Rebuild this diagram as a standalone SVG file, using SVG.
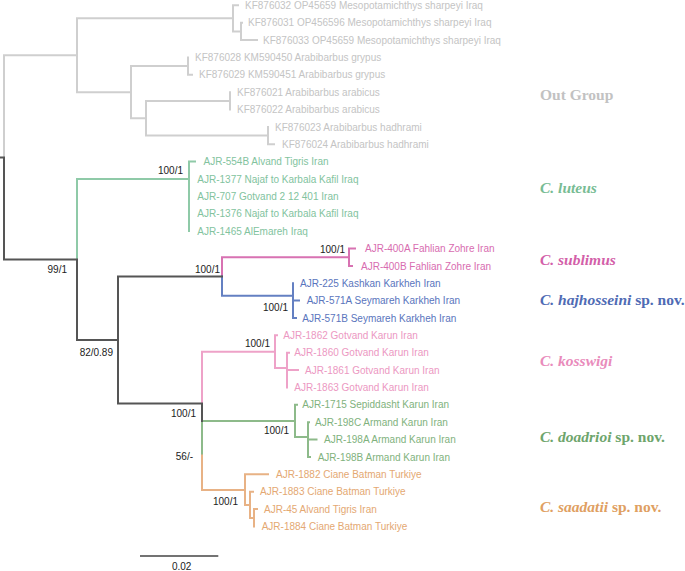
<svg xmlns="http://www.w3.org/2000/svg" width="685" height="571" viewBox="0 0 685 571">
<style>
.t{font-family:"Liberation Sans",Arial,sans-serif;font-size:10px}
.bs{font-family:"Liberation Sans",Arial,sans-serif;font-size:10px;fill:#222;text-anchor:end}
.cl{font-family:"Liberation Serif","Times New Roman",serif;font-size:15.5px;font-weight:bold;font-style:italic}
.up{font-style:normal}
.e{fill:none;stroke-width:2;stroke-linecap:square;stroke-linejoin:miter}
.og{fill:#c4c4c4}.lu{fill:#82c39e}.su{fill:#d86cb0}.ha{fill:#5a75bd}.ko{fill:#ec98c2}.do{fill:#7fb27d}.sa{fill:#e4a872}
</style>
<rect width="685" height="571" fill="#fff"/>
<g id="connectors">
<path class="e" stroke="#cfcfcf" d="M4,157.4V55.3H77M77,18.3V92.2M77,18.3H233M233,5.3V31.4M233,5.3H238M233,31.4H241M241,22.7V40M241,22.7H242M241,40H257M77,92.2H131M131,66.1V118.2M131,66.1H188M188,57.4V74.8M188,74.8H192M131,118.2H146M146,100.9V135.6M146,100.9H230M230,92.2V109.5M146,135.6H268M268,126.9V144.3M268,144.3H274"/>
<path class="e" stroke="#8fcaa8" d="M77,259.5V179H189M189,161.6V231.1M189,161.6H195"/>
<path class="e" stroke="#d872b2" d="M222,276.5V257.2H349M349,248.5V265.9M349,248.5H355M349,265.9H352"/>
<path class="e" stroke="#6480c2" d="M222,276.5V295.7H293M293,283.2V318M293,300.6H299M293,318H296"/>
<path class="e" stroke="#eea2c8" d="M202,403.6V351.7H275M275,335.3V368M275,335.3H277M275,368H287M287,352.7V387.4M287,352.7H289M287,370.1H298"/>
<path class="e" stroke="#8dba8a" d="M202,421V455.5M202,421H295M295,404.8V437M295,404.8H297M295,437H308M308,422.2V456.9M308,422.2H309M308,439.6H316.5M308,456.9H310"/>
<path class="e" stroke="#e8b285" d="M202,455.5V490H245M245,474.3V505M245,474.3H268M245,505H250M250,491.7V518M250,491.7H253M250,518H254M254,509V526.4M254,509H257"/>
<path class="e" stroke="#555" d="M0,157.4H4V259.5H77V340H118M118,276.5V403.6H202V421M118,276.5H222"/>
</g>
<g id="support">
<text class="bs" x="183" y="174">100/1</text>
<text class="bs" x="67" y="272.5">99/1</text>
<text class="bs" x="220" y="273">100/1</text>
<text class="bs" x="345" y="252.5">100/1</text>
<text class="bs" x="288" y="311">100/1</text>
<text class="bs" x="113" y="356">82/0.89</text>
<text class="bs" x="270" y="347">100/1</text>
<text class="bs" x="196" y="417">100/1</text>
<text class="bs" x="289" y="433.5">100/1</text>
<text class="bs" x="193" y="460">56/-</text>
<text class="bs" x="238" y="504.5">100/1</text>
</g>
<g id="outgroup" class="t og">
<text x="245" y="8.9">KF876032 OP45659 Mesopotamichthys sharpeyi Iraq</text>
<text x="248" y="26.3">KF876031 OP456596 Mesopotamichthys sharpeyi Iraq</text>
<text x="263" y="43.6">KF876033 OP45659 Mesopotamichthys sharpeyi Iraq</text>
<text x="195" y="61">KF876028 KM590450 Arabibarbus grypus</text>
<text x="199" y="78.4">KF876029 KM590451 Arabibarbus grypus</text>
<text x="237" y="95.8">KF876021 Arabibarbus arabicus</text>
<text x="237" y="113.1">KF876022 Arabibarbus arabicus</text>
<text x="275" y="130.5">KF876023 Arabibarbus hadhrami</text>
<text x="282" y="147.9">KF876024 Arabibarbus hadhrami</text>
</g>
<g id="luteus" class="t lu">
<text x="203.5" y="165.2">AJR-554B Alvand Tigris Iran</text>
<text x="197.3" y="182.6">AJR-1377 Najaf to Karbala Kafil Iraq</text>
<text x="197.3" y="200">AJR-707 Gotvand 2 12 401 Iran</text>
<text x="197.3" y="217.3">AJR-1376 Najaf to Karbala Kafil Iraq</text>
<text x="197.3" y="234.7">AJR-1465 AlEmareh Iraq</text>
</g>
<g id="sublimus" class="t su">
<text x="365" y="252.1">AJR-400A Fahlian Zohre Iran</text>
<text x="361" y="269.5">AJR-400B Fahlian Zohre Iran</text>
</g>
<g id="hajhosseini" class="t ha">
<text x="300" y="286.8">AJR-225 Kashkan Karkheh Iran</text>
<text x="306.7" y="304.2">AJR-571A Seymareh Karkheh Iran</text>
<text x="302.3" y="321.6">AJR-571B Seymareh Karkheh Iran</text>
</g>
<g id="kosswigi" class="t ko">
<text x="283.3" y="338.9">AJR-1862 Gotvand Karun Iran</text>
<text x="294.3" y="356.3">AJR-1860 Gotvand Karun Iran</text>
<text x="305" y="373.7">AJR-1861 Gotvand Karun Iran</text>
<text x="294.3" y="391">AJR-1863 Gotvand Karun Iran</text>
</g>
<g id="doadrioi" class="t do">
<text x="302.3" y="408.4">AJR-1715 Sepiddasht Karun Iran</text>
<text x="315" y="425.8">AJR-198C Armand Karun Iran</text>
<text x="324" y="443.2">AJR-198A Armand Karun Iran</text>
<text x="317.7" y="460.5">AJR-198B Armand Karun Iran</text>
</g>
<g id="saadatii" class="t sa">
<text x="276" y="477.9">AJR-1882 Ciane Batman Turkiye</text>
<text x="260" y="495.3">AJR-1883 Ciane Batman Turkiye</text>
<text x="264" y="512.6">AJR-45 Alvand Tigris Iran</text>
<text x="261.7" y="530">AJR-1884 Ciane Batman Turkiye</text>
</g>
<g id="clade-labels">
<text class="cl up" x="540" y="100" fill="#c2c2c2">Out Group</text>
<text class="cl" x="540" y="193" fill="#78bc94">C. luteus</text>
<text class="cl" x="540" y="265" fill="#d35fa9">C. sublimus</text>
<text class="cl" x="540" y="305" fill="#4f6bb4">C. hajhosseini<tspan class="up"> sp. nov.</tspan></text>
<text class="cl" x="540" y="365.5" fill="#e98bbb">C. kosswigi</text>
<text class="cl" x="540" y="441.5" fill="#6ea56c">C. doadrioi<tspan class="up"> sp. nov.</tspan></text>
<text class="cl" x="540" y="511.5" fill="#e09f62">C. saadatii<tspan class="up"> sp. nov.</tspan></text>
</g>
<g id="scale-bar">
<path d="M140,556H218.3" stroke="#444" stroke-width="1.4" fill="none"/>
<text class="t" x="181.7" y="569.5" text-anchor="middle" fill="#222">0.02</text>
</g>
</svg>
